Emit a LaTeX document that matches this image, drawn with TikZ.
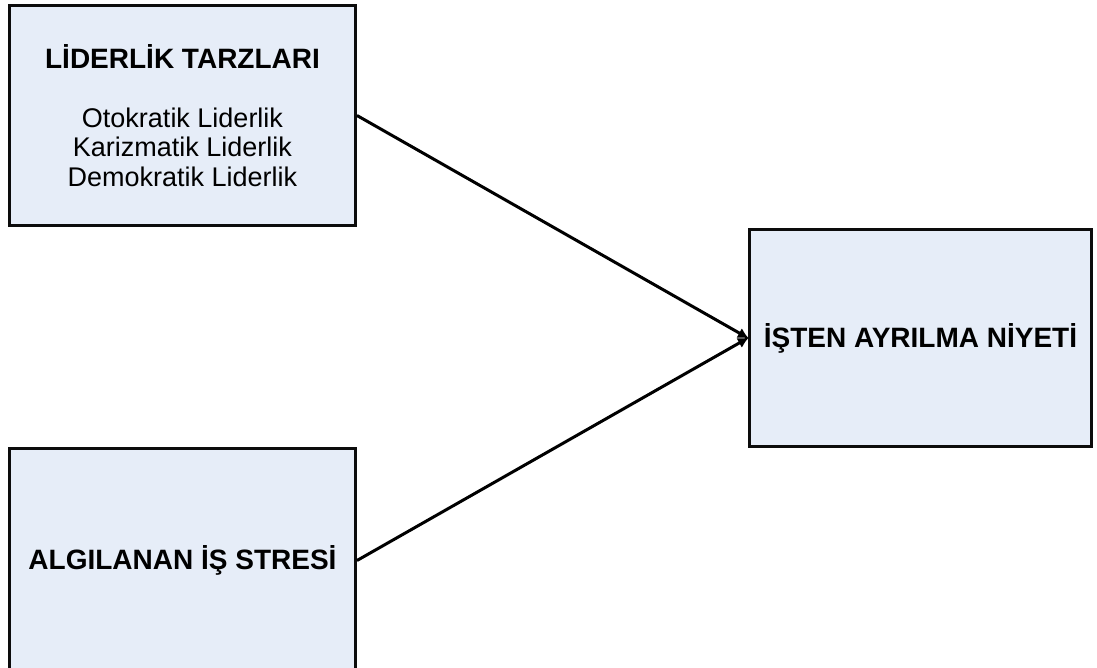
\documentclass[tikz,border=0pt]{standalone}
\usepackage{fontspec}
\setmainfont{Liberation Sans}
\usetikzlibrary{arrows.meta}
\definecolor{boxfill}{RGB}{230,237,248}
\definecolor{boxline}{RGB}{12,12,12}
\tikzset{
  box/.style={draw=boxline, line width=3pt, fill=boxfill, rectangle, align=center,
    inner sep=0pt, font=\fontsize{27}{29.5}\selectfont},
  boldbox/.style={box, font=\bfseries\fontsize{28}{30}\selectfont},
  conn/.style={draw=black, line width=3pt, -{Latex[length=11pt,width=11pt]}, shorten >=-1pt}
}
\begin{document}
\begin{tikzpicture}[x=1pt,y=-1pt]
\useasboundingbox (0,0) rectangle (1097,668);
\node[box, minimum width=346pt, minimum height=220pt] (lt) at (182.5,115.5)
  {{\bfseries\fontsize{28}{29.5}\selectfont LİDERLİK TARZLARI}\\[29.5pt]Otokratik Liderlik\\Karizmatik Liderlik\\Demokratik Liderlik};
\node[boldbox, minimum width=346pt, minimum height=224pt] (st) at (182.5,560.5)
  {ALGILANAN İŞ STRESİ};
\node[boldbox, minimum width=342pt, minimum height=217pt] (ni) at (920.5,338)
  {İŞTEN AYRILMA NİYETİ};
\draw[conn] (lt.east) -- (ni.west);
\draw[conn] (st.east) -- (ni.west);
\end{tikzpicture}
\end{document}
